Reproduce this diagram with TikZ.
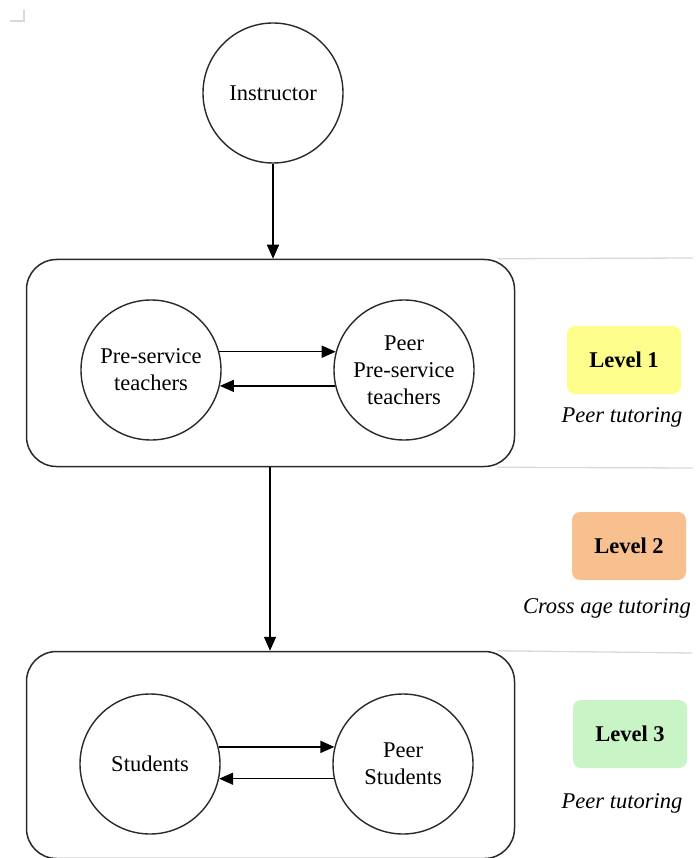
\documentclass[tikz,border=0pt]{standalone}
\usepackage{fontspec}
\setmainfont{Liberation Serif}
\usetikzlibrary{arrows.meta}
\definecolor{lvlone}{HTML}{FDFD8C}
\definecolor{lvltwo}{HTML}{F9C08F}
\definecolor{lvlthree}{HTML}{C9F5C6}
\definecolor{faint}{HTML}{D9D9D9}
\definecolor{edge}{HTML}{2A2A2A}
\begin{document}
\begin{tikzpicture}[x=1pt,y=-1pt,
  every node/.style={font=\fontsize{22.5}{27}\selectfont},
  actor/.style={circle,draw=edge,line width=1.4pt,minimum size=140pt,inner sep=0pt,align=center},
  levelbox/.style={draw=edge,line width=1.5pt,rounded corners=30pt,minimum width=488pt,minimum height=207pt},
  tag/.style={rounded corners=8pt,minimum width=114pt,minimum height=68pt,font=\fontsize{22.5}{27}\selectfont\bfseries},
  kind/.style={font=\fontsize{22.5}{27}\selectfont\itshape},
  arr/.style={-{Triangle[length=14pt,width=12pt]},line width=1.5pt,draw=black},
  faintline/.style={draw=faint,line width=1.3pt}]
\useasboundingbox (0,0) rectangle (696,858);
\fill[white] (0,0) rectangle (696,858);
% corner mark
\draw[faint,line width=1.5pt] (10,21) -- (24,21) -- (24,10);
% boxes
\node[levelbox] (box1) at (270.5,363) {};
\node[levelbox] (box2) at (270.5,755) {};
% faint lines
\draw[faintline] (box1.north east) ++(-18,0) -- (693,258);
\draw[faintline] (box1.south east) ++(-18,0) -- (693,468);
\draw[faintline] (box2.north east) ++(-18,0) -- (692,653);
% circles
\node[actor] (instr) at (273,93) {Instructor};
\node[actor] (pst) at (151,370) {Pre-service\\teachers};
\node[actor] (ppst) at (404,370) {Peer\\Pre-service\\teachers};
\node[actor] (stu) at (150,764) {Students};
\node[actor] (pstu) at (403,764) {Peer\\Students};
% arrows
\draw[arr] (instr.south) -- (instr.south |- box1.north);
\coordinate (mid1) at (270,468);
\draw[arr] (box1.south -| mid1) -- (box2.north -| mid1);
\draw[arr] (pst.15) -- (ppst.165);
\draw[arr] (ppst.193) -- (pst.-13);
\draw[arr] (stu.14) -- (pstu.166);
\draw[arr] (pstu.192) -- (stu.-12);
% level tags
\node[tag,fill=lvlone] (l1) at (624,360) {Level 1};
\node[kind] (k1) at (622,417) {Peer tutoring};
\node[tag,fill=lvltwo] (l2) at (629,546) {Level 2};
\node[kind] (k2) at (607,608) {Cross age tutoring};
\node[tag,fill=lvlthree] (l3) at (630,734) {Level 3};
\node[kind] (k3) at (622,803) {Peer tutoring};
\end{tikzpicture}
\end{document}
